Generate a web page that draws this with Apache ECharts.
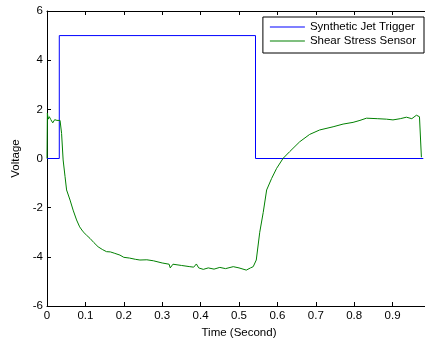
<!DOCTYPE html>
<html>
<head>
<meta charset="utf-8">
<script src="https://cdn.jsdelivr.net/npm/echarts@6/dist/echarts.min.js"></script>
<style>
    html, body { margin: 0; padding: 0; background: #fff; }
    #chart { width: 425px; height: 339px; }
</style>
</head>
<body>
<div id="chart"></div>
<script>
    // values
    var triggerTime = [0, 0.032, 0.032, 0.543, 0.543, 0.98];
    var triggerVolt = [0, 0, 5, 5, 0, 0];

    var shearTime = [0, 0.001, 0.003, 0.006, 0.01, 0.015, 0.02, 0.026, 0.031, 0.034, 0.038, 0.042, 0.047, 0.051,
        0.06, 0.068, 0.077, 0.085, 0.094, 0.103, 0.112, 0.122, 0.133, 0.144, 0.155, 0.165, 0.175, 0.19, 0.2,
        0.215, 0.23, 0.242, 0.26, 0.277, 0.3, 0.318, 0.321, 0.328, 0.35, 0.372, 0.382, 0.389, 0.395, 0.407,
        0.42, 0.435, 0.45, 0.465, 0.485, 0.5, 0.519, 0.53, 0.537, 0.545, 0.554, 0.563, 0.572, 0.585, 0.598,
        0.615, 0.632, 0.658, 0.684, 0.71, 0.745, 0.771, 0.797, 0.815, 0.832, 0.86, 0.884, 0.901, 0.92, 0.936,
        0.95, 0.962, 0.97, 0.975];
    var shearVolt = [0, 1.85, 1.6, 1.7, 1.58, 1.45, 1.58, 1.55, 1.63, 1.55, 1.02, -0.06, -0.74, -1.28,
        -1.69, -2.1, -2.5, -2.78, -2.98, -3.12, -3.25, -3.42, -3.59, -3.7, -3.79, -3.8, -3.85, -3.93, -4.02,
        -4.05, -4.1, -4.13, -4.12, -4.16, -4.25, -4.3, -4.45, -4.3, -4.35, -4.4, -4.42, -4.29, -4.45, -4.51,
        -4.45, -4.5, -4.43, -4.48, -4.4, -4.45, -4.54, -4.45, -4.4, -4.13, -3.0, -2.2, -1.28, -0.81, -0.4,
        0.01, 0.28, 0.68, 0.98, 1.16, 1.29, 1.4, 1.47, 1.55, 1.64, 1.62, 1.6, 1.57, 1.62, 1.68,
        1.62, 1.76, 1.7, 0.05];

    function pairs(xs, ys) {
        var out = [];
        for (var i = 0; i < xs.length; i++) out.push([xs[i], ys[i]]);
        return out;
    }

    var font = 'Liberation Sans, Arial, sans-serif';
    var fs = 11.5;
    var chart = echarts.init(document.getElementById('chart'));

    chart.setOption({
        animation: false,
        textStyle: { fontFamily: font },
        grid: {
            left: 47, top: 11, right: -6, bottom: 33,
            outerBoundsMode: 'none',
            containLabel: false,
            show: false
        },
        legend: {
            orient: 'vertical',
            right: 1, top: 17,
            data: ['Synthetic Jet Trigger', 'Shear Stress Sensor'],
            icon: 'rect',
            backgroundColor: '#fff',
            borderColor: '#000', borderWidth: 1,
            padding: [4, 8, 6, 7],
            itemWidth: 35, itemHeight: 1, itemGap: 2,
            textStyle: { fontSize: fs, color: '#000', fontFamily: font }
        },
        xAxis: [{
            type: 'value', min: 0, max: 1, interval: 0.1,
            name: 'Time (Second)', nameLocation: 'middle', nameGap: 20,
            nameTextStyle: { fontSize: fs, color: '#000' },
            axisLine: { onZero: false, lineStyle: { color: '#000' } },
            axisTick: { inside: true, length: 4, lineStyle: { color: '#000' } },
            axisLabel: { fontSize: fs, color: '#000', margin: 4 },
            splitLine: { show: false }
        }, {
            type: 'value', min: 0, max: 1, interval: 0.1, position: 'top',
            axisLine: { onZero: false, lineStyle: { color: '#000' } },
            axisTick: { inside: true, length: 4, lineStyle: { color: '#000' } },
            axisLabel: { show: false },
            splitLine: { show: false }
        }],
        yAxis: {
            type: 'value', min: -6, max: 6, interval: 2,
            name: 'Voltage', nameLocation: 'middle', nameGap: 25,
            nameTextStyle: { fontSize: fs, color: '#000' },
            axisLine: { show: true, onZero: false, lineStyle: { color: '#000' } },
            axisTick: { show: true, inside: true, length: 4, lineStyle: { color: '#000' } },
            axisLabel: { fontSize: fs, color: '#000', margin: 4 },
            splitLine: { show: false }
        },
        series: [{
            name: 'Synthetic Jet Trigger',
            type: 'line',
            symbol: 'none',
            color: '#0000ff',
            lineStyle: { width: 1 },
            data: pairs(triggerTime, triggerVolt)
        }, {
            name: 'Shear Stress Sensor',
            type: 'line',
            symbol: 'none',
            color: '#008000',
            lineStyle: { width: 1 },
            data: pairs(shearTime, shearVolt)
        }]
    });
</script>
</body>
</html>
